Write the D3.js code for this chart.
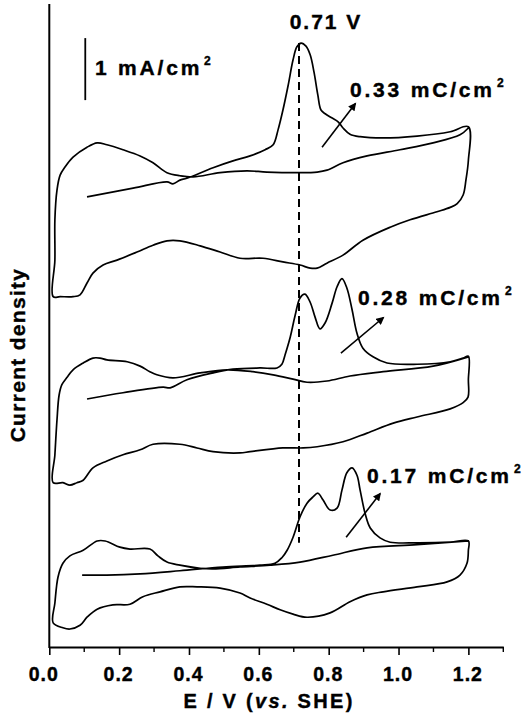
<!DOCTYPE html>
<html>
<head>
<meta charset="utf-8">
<script src="https://d3js.org/d3.v7.min.js"></script>
<style>
  body { margin: 0; background: #fff; }
  text { font-family: "Liberation Sans", Arial, sans-serif; font-weight: bold; fill: #000; stroke: #000; stroke-width: 0.4px; }
</style>
</head>
<body>
<div class="chart"></div>
<script>
// CV curves, [E (V vs SHE), current density (mA/cm2, stacked offset)]
// each one in sweep order: 1st anodic (CO stripping) -> cathodic -> 2nd anodic
const cvTop = [
  [0.108, 7.26], [0.240, 7.40], [0.337, 7.50], [0.354, 7.47], [0.374, 7.53], [0.394, 7.56],
  [0.469, 7.73], [0.526, 7.84], [0.575, 7.92], [0.618, 8.02], [0.641, 8.10], [0.655, 8.34],
  [0.669, 8.66], [0.684, 9.06], [0.698, 9.47], [0.709, 9.68], [0.721, 9.74], [0.735, 9.69],
  [0.747, 9.55], [0.758, 9.27], [0.769, 8.90], [0.778, 8.66], [0.790, 8.60], [0.810, 8.53],
  [0.827, 8.47], [0.841, 8.37], [0.861, 8.27], [0.890, 8.23], [0.956, 8.21], [1.053, 8.24],
  [1.148, 8.31], [1.200, 8.39],
  [1.200, 7.85], [1.193, 7.53], [1.185, 7.29], [1.168, 7.15], [1.148, 7.09], [1.110, 7.02],
  [1.033, 6.89], [0.976, 6.77], [0.898, 6.56], [0.841, 6.32], [0.795, 6.19], [0.767, 6.11],
  [0.747, 6.11], [0.718, 6.16], [0.669, 6.21], [0.612, 6.27], [0.546, 6.27], [0.489, 6.37],
  [0.432, 6.47], [0.374, 6.55], [0.337, 6.55], [0.297, 6.48], [0.251, 6.37], [0.194, 6.24],
  [0.154, 6.16], [0.125, 6.03], [0.108, 5.87], [0.088, 5.68], [0.068, 5.65], [0.031, 5.65],
  [0.011, 5.65],
  [0.016, 6.24], [0.016, 6.89], [0.022, 7.37], [0.031, 7.61], [0.045, 7.74], [0.068, 7.90],
  [0.108, 8.06], [0.137, 8.13], [0.165, 8.10], [0.211, 8.02], [0.260, 7.92], [0.297, 7.81],
  [0.337, 7.65], [0.374, 7.60], [0.412, 7.58], [0.489, 7.65], [0.566, 7.68], [0.623, 7.66],
  [0.718, 7.65], [0.767, 7.66], [0.795, 7.69], [0.841, 7.81], [0.910, 7.92], [1.004, 8.02],
  [1.099, 8.13], [1.176, 8.26], [1.200, 8.37]
];

const cvMiddle = [
  [0.108, 4.00], [0.211, 4.10], [0.326, 4.19], [0.346, 4.18], [0.394, 4.31], [0.469, 4.42],
  [0.526, 4.48], [0.603, 4.50], [0.652, 4.50], [0.666, 4.56], [0.675, 4.71], [0.690, 5.00],
  [0.704, 5.35], [0.718, 5.63], [0.732, 5.69], [0.747, 5.56], [0.761, 5.32], [0.775, 5.13],
  [0.790, 5.23], [0.810, 5.55], [0.824, 5.81], [0.838, 5.94], [0.852, 5.79], [0.867, 5.44],
  [0.881, 5.06], [0.898, 4.82], [0.927, 4.68], [0.967, 4.58], [1.053, 4.56], [1.148, 4.60],
  [1.185, 4.66], [1.200, 4.69],
  [1.200, 4.31], [1.199, 4.03], [1.185, 3.94], [1.148, 3.84], [1.053, 3.71], [0.985, 3.61],
  [0.910, 3.45], [0.841, 3.31], [0.767, 3.23], [0.727, 3.21], [0.669, 3.21], [0.575, 3.15],
  [0.546, 3.13], [0.469, 3.15], [0.423, 3.21], [0.374, 3.27], [0.297, 3.27], [0.260, 3.18],
  [0.211, 3.10], [0.165, 3.00], [0.125, 2.89], [0.097, 2.69], [0.079, 2.65], [0.059, 2.61],
  [0.039, 2.65], [0.011, 2.65],
  [0.016, 3.10], [0.022, 3.66], [0.028, 4.06], [0.036, 4.23], [0.051, 4.35], [0.068, 4.47],
  [0.097, 4.58], [0.125, 4.66], [0.145, 4.66], [0.165, 4.63], [0.223, 4.60], [0.260, 4.53],
  [0.288, 4.44], [0.308, 4.39], [0.354, 4.34], [0.432, 4.42], [0.509, 4.47], [0.583, 4.44],
  [0.641, 4.39], [0.698, 4.32], [0.738, 4.27], [0.795, 4.29], [0.861, 4.37], [0.956, 4.44],
  [1.099, 4.53], [1.200, 4.68]
];

const cvBottom = [
  [0.094, 1.16], [0.165, 1.16], [0.260, 1.18], [0.374, 1.23], [0.497, 1.29], [0.603, 1.32],
  [0.646, 1.35], [0.666, 1.44], [0.681, 1.56], [0.698, 1.77], [0.718, 2.10], [0.738, 2.32],
  [0.755, 2.42], [0.769, 2.48], [0.784, 2.37], [0.804, 2.21], [0.824, 2.24], [0.838, 2.53],
  [0.852, 2.81], [0.867, 2.89], [0.881, 2.77], [0.890, 2.53], [0.904, 2.16], [0.919, 1.92],
  [0.947, 1.76], [0.976, 1.69], [1.053, 1.68], [1.148, 1.69], [1.200, 1.71],
  [1.200, 1.56], [1.196, 1.35], [1.176, 1.16], [1.139, 1.05], [1.053, 0.97], [0.956, 0.89],
  [0.910, 0.84], [0.861, 0.73], [0.804, 0.55], [0.738, 0.48], [0.698, 0.53], [0.661, 0.60],
  [0.623, 0.69], [0.575, 0.79], [0.546, 0.87], [0.489, 0.95], [0.423, 0.97], [0.374, 0.97],
  [0.317, 0.89], [0.268, 0.81], [0.231, 0.69], [0.182, 0.68], [0.137, 0.61], [0.108, 0.48],
  [0.088, 0.35], [0.059, 0.29], [0.039, 0.31], [0.011, 0.39],
  [0.016, 0.71], [0.025, 1.13], [0.039, 1.35], [0.059, 1.47], [0.097, 1.56], [0.137, 1.71],
  [0.160, 1.71], [0.202, 1.61], [0.231, 1.58], [0.288, 1.58], [0.311, 1.47], [0.337, 1.37],
  [0.374, 1.32], [0.432, 1.27], [0.469, 1.26], [0.546, 1.29], [0.632, 1.32], [0.718, 1.37],
  [0.812, 1.48], [0.910, 1.60], [1.053, 1.65], [1.200, 1.71]
];

// charge labels and their arrows [E0, j0, E1, j1]
const charges = ["0.33", "0.28", "0.17"];
const chargeArrows = [
  [0.781, 8.06, 0.876, 8.76],
  [0.835, 4.74, 0.956, 5.31],
  [0.850, 1.77, 0.947, 2.47]
];

const xTicks = [0.0, 0.2, 0.4, 0.6, 0.8, 1.0, 1.2];
const xMinorTicks = [0.1, 0.3, 0.5, 0.7, 0.9, 1.1, 1.3];

const peakPotential = 0.715;     // dashed marker, "0.71 V"
const peakLineSpan = [1.68, 9.74];
const scaleBar = [0.103, 8.82, 9.82]; // E, j from, j to (1 mA/cm2)

const svgWidth = 524;
const svgHeight = 719;

const margin = {
  top: 4,
  right: 20.7,
  bottom: 72,
  left: 49.3
};

const width = svgWidth - margin.left - margin.right;
const height = svgHeight - margin.top - margin.bottom;

const svg = d3
  .select(".chart")
  .append("svg")
  .attr("width", svgWidth)
  .attr("height", svgHeight);

const chartGroup = svg.append("g")
  .attr("transform", `translate(${margin.left}, ${margin.top})`);

// scales
const xScale = d3.scaleLinear()
  .domain([0, 1.3])
  .range([0, width]);

const yScale = d3.scaleLinear()
  .domain([0, 10.37])
  .range([height, 0]);

// arrow head
svg.append("defs").append("marker")
  .attr("id", "arrow")
  .attr("viewBox", "0 0 10 10")
  .attr("refX", 8)
  .attr("refY", 5)
  .attr("markerUnits", "userSpaceOnUse")
  .attr("markerWidth", 9)
  .attr("markerHeight", 8)
  .attr("orient", "auto")
  .append("path")
  .attr("d", "M0,0 L10,5 L0,10 z")
  .attr("fill", "#000");

// curves
const line = d3.line()
  .x(d => xScale(d[0]))
  .y(d => yScale(d[1]))
  .curve(d3.curveCatmullRom.alpha(0.5));

chartGroup.selectAll(".cv")
  .data([cvTop, cvMiddle, cvBottom])
  .enter()
  .append("path")
  .attr("class", "cv")
  .attr("d", line)
  .attr("fill", "none")
  .attr("stroke", "#000")
  .attr("stroke-width", 1.7)
  .attr("stroke-linejoin", "round");

// dashed peak line
chartGroup.append("line")
  .attr("x1", xScale(peakPotential))
  .attr("x2", xScale(peakPotential))
  .attr("y1", yScale(peakLineSpan[1]))
  .attr("y2", yScale(peakLineSpan[0]))
  .attr("stroke", "#000")
  .attr("stroke-width", 2)
  .attr("stroke-dasharray", "8,5");

// scale bar
chartGroup.append("line")
  .attr("x1", xScale(scaleBar[0]))
  .attr("x2", xScale(scaleBar[0]))
  .attr("y1", yScale(scaleBar[1]))
  .attr("y2", yScale(scaleBar[2]))
  .attr("stroke", "#000")
  .attr("stroke-width", 1.8);

// charge arrows
chartGroup.selectAll(".charge-arrow")
  .data(chargeArrows)
  .enter()
  .append("line")
  .attr("class", "charge-arrow")
  .attr("x1", d => xScale(d[0]))
  .attr("y1", d => yScale(d[1]))
  .attr("x2", d => xScale(d[2]))
  .attr("y2", d => yScale(d[3]))
  .attr("stroke", "#000")
  .attr("stroke-width", 1.6)
  .attr("marker-end", "url(#arrow)");

// text with superscript 2
function unitLabel(g, x, y, main, supX) {
  const t = g.append("text")
    .attr("x", x)
    .attr("y", y)
    .style("font-size", "21px")
    .style("letter-spacing", "2.8px");
  t.append("tspan").text(main);
  t.append("tspan")
    .attr("x", supX)
    .attr("dy", -10.5)
    .style("font-size", "12px")
    .style("letter-spacing", "0px")
    .text("2");
  return t;
}

unitLabel(svg, 95, 75, "1 mA/cm", 204);
svg.append("text")
  .attr("x", 326)
  .attr("y", 29)
  .attr("text-anchor", "middle")
  .style("font-size", "21px")
  .style("letter-spacing", "2px")
  .text("0.71 V");

const chargePos = [[350, 97, 497], [358, 305, 505], [367, 483, 514]];
charges.forEach((c, i) => {
  const p = chargePos[i];
  unitLabel(svg, p[0], p[1], `${c} mC/cm`, p[2]);
});

// x axis
const bottomAxis = d3.axisBottom(xScale)
  .tickValues(xTicks)
  .tickSize(8)
  .tickSizeOuter(0)
  .tickPadding(12)
  .tickFormat(d3.format(".1f"));

const xAxis = chartGroup.append("g")
  .attr("transform", `translate(0, ${height})`)
  .call(bottomAxis);

xAxis.select(".domain").attr("stroke-width", 2);
xAxis.selectAll(".tick line").attr("stroke-width", 1.6);
xAxis.selectAll("text")
  .attr("fill", "#000")
  .attr("dx", d => d === 0 ? -6 : -1)
  .style("font-family", "'Liberation Sans', Arial, sans-serif")
  .style("font-weight", "bold")
  .style("font-size", "19.5px")
  .style("letter-spacing", "1px");

chartGroup.append("g")
  .attr("transform", `translate(0, ${height})`)
  .selectAll("line")
  .data(xMinorTicks)
  .enter()
  .append("line")
  .attr("x1", d => xScale(d))
  .attr("x2", d => xScale(d))
  .attr("y1", 0)
  .attr("y2", 5)
  .attr("stroke", "#000")
  .attr("stroke-width", 1.4);

// left axis line only
chartGroup.append("line")
  .attr("x1", 0)
  .attr("x2", 0)
  .attr("y1", 0)
  .attr("y2", height + 1)
  .attr("stroke", "#000")
  .attr("stroke-width", 2);

// axis titles
const xTitle = svg.append("text")
  .attr("x", 269)
  .attr("y", 708)
  .attr("text-anchor", "middle")
  .style("font-size", "20px")
  .style("letter-spacing", "2.3px");
xTitle.append("tspan").text("E / V (");
xTitle.append("tspan").style("font-style", "italic").text("vs.");
xTitle.append("tspan").text(" SHE)");

svg.append("text")
  .attr("transform", "translate(25, 355) rotate(-90)")
  .attr("text-anchor", "middle")
  .style("font-size", "21px")
  .style("letter-spacing", "1.3px")
  .text("Current density");
</script>
</body>
</html>
